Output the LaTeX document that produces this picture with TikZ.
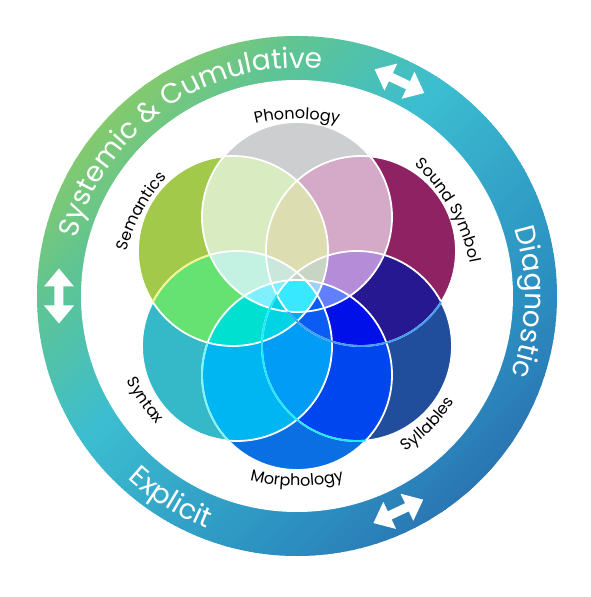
\documentclass[tikz,border=0pt]{standalone}
\usepackage{fontspec}
\setmainfont{Poppins}
\usetikzlibrary{decorations.text}
\definecolor{rg0}{HTML}{86CA6C}
\definecolor{rg1}{HTML}{5CC496}
\definecolor{rg2}{HTML}{3CBDD0}
\definecolor{rg3}{HTML}{2B8EC0}
\definecolor{rg4}{HTML}{2A74B2}
\definecolor{cphon}{HTML}{CDCED0}
\definecolor{csem}{HTML}{A2C94A}
\definecolor{csnd}{HTML}{8E2263}
\definecolor{csyn}{HTML}{35B8C8}
\definecolor{csyl}{HTML}{214E9C}
\definecolor{cmor}{HTML}{0A6FE3}
\tikzset{
  rim/.style={white, line width=1.8pt},
  ringtext/.style={decorate, decoration={text along path, text align=center, text color=white}},
  labeltext/.style={decorate, decoration={text along path, text align=center, text color=black}},
  dblarrow/.style={fill=white}
}
\begin{document}
\begin{tikzpicture}[x=1pt,y=1pt]
\useasboundingbox (-297,-301) rectangle (294,296);
\fill[white] (-297,-301) rectangle (294,296);
% ---------- ring ----------
\begin{scope}
\clip (0,0) circle (260);
\foreach \s in {-264,-260,...,-172}{\pgfmathtruncatemacro\p{(\s+264)/92*100}\fill[rg1!\p!rg0, rotate=-45] (\s-1,-270) rectangle (\s+4,270);}
\foreach \s in {-168,-164,...,-52}{\pgfmathtruncatemacro\p{(\s+168)/116*100}\fill[rg2!\p!rg1, rotate=-45] (\s-1,-270) rectangle (\s+4,270);}
\foreach \s in {-48,-44,...,168}{\pgfmathtruncatemacro\p{(\s+48)/216*100}\fill[rg3!\p!rg2, rotate=-45] (\s-1,-270) rectangle (\s+4,270);}
\foreach \s in {172,176,...,264}{\pgfmathtruncatemacro\p{(\s-172)/92*100}\fill[rg4!\p!rg3, rotate=-45] (\s-1,-270) rectangle (\s+4,270);}
\end{scope}
\fill[white] (0,0) circle (216);
% ---------- circle centres ----------
\coordinate (cP) at (0,79);
\coordinate (cSe) at (-64,45);
\coordinate (cSS) at (64,45);
\coordinate (cSy) at (-60,-50);
\coordinate (cSyl) at (60,-50);
\coordinate (cM) at (0,-79);
\def\R{95}
% singles
\fill[cphon] (cP) circle (\R);
\fill[csem] (cSe) circle (\R);
\fill[csnd] (cSS) circle (\R);
\fill[csyn] (cSy) circle (\R);
\fill[csyl] (cSyl) circle (\R);
\fill[cmor] (cM) circle (\R);
% pairs
\begin{scope}\clip (cP) circle (\R);\fill[fill={rgb,255:red,217;green,235;blue,192}] (cSe) circle (\R);\end{scope}
\begin{scope}\clip (cP) circle (\R);\fill[fill={rgb,255:red,212;green,170;blue,200}] (cSS) circle (\R);\end{scope}
\begin{scope}\clip (cSe) circle (\R);\fill[fill={rgb,255:red,102;green,226;blue,114}] (cSy) circle (\R);\end{scope}
\begin{scope}\clip (cSS) circle (\R);\fill[fill={rgb,255:red,38;green,24;blue,144}] (cSyl) circle (\R);\end{scope}
\begin{scope}\clip (cSy) circle (\R);\fill[fill={rgb,255:red,0;green,182;blue,242}] (cM) circle (\R);\end{scope}
\begin{scope}\clip (cSyl) circle (\R);\fill[fill={rgb,255:red,0;green,70;blue,238}] (cM) circle (\R);\end{scope}
% triples
\begin{scope}\clip (cP) circle (\R);\clip (cSe) circle (\R);\fill[fill={rgb,255:red,220;green,221;blue,176}] (cSS) circle (\R);\end{scope}
\begin{scope}\clip (cP) circle (\R);\clip (cSe) circle (\R);\fill[fill={rgb,255:red,195;green,242;blue,227}] (cSy) circle (\R);\end{scope}
\begin{scope}\clip (cP) circle (\R);\clip (cSS) circle (\R);\fill[fill={rgb,255:red,180;green,140;blue,216}] (cSyl) circle (\R);\end{scope}
\begin{scope}\clip (cSe) circle (\R);\clip (cSy) circle (\R);\fill[fill={rgb,255:red,0;green,224;blue,208}] (cM) circle (\R);\end{scope}
\begin{scope}\clip (cSS) circle (\R);\clip (cSyl) circle (\R);\fill[fill={rgb,255:red,0;green,16;blue,232}] (cM) circle (\R);\end{scope}
\begin{scope}\clip (cSy) circle (\R);\clip (cSyl) circle (\R);\fill[fill={rgb,255:red,0;green,156;blue,245}] (cM) circle (\R);\end{scope}
% quads
\begin{scope}\clip (cP) circle (\R);\clip (cSe) circle (\R);\clip (cSS) circle (\R);\fill[fill={rgb,255:red,203;green,230;blue,218}] (cSy) circle (\R);\end{scope}
\begin{scope}\clip (cP) circle (\R);\clip (cSe) circle (\R);\clip (cSS) circle (\R);\fill[fill={rgb,255:red,200;green,212;blue,196}] (cSyl) circle (\R);\end{scope}
\begin{scope}\clip (cP) circle (\R);\clip (cSe) circle (\R);\clip (cSy) circle (\R);\fill[fill={rgb,255:red,128;green,240;blue,255}] (cM) circle (\R);\end{scope}
\begin{scope}\clip (cP) circle (\R);\clip (cSS) circle (\R);\clip (cSyl) circle (\R);\fill[fill={rgb,255:red,96;green,128;blue,255}] (cM) circle (\R);\end{scope}
\begin{scope}\clip (cSe) circle (\R);\clip (cSy) circle (\R);\clip (cSyl) circle (\R);\fill[fill={rgb,255:red,0;green,212;blue,228}] (cM) circle (\R);\end{scope}
\begin{scope}\clip (cSS) circle (\R);\clip (cSy) circle (\R);\clip (cSyl) circle (\R);\fill[fill={rgb,255:red,10;green,92;blue,245}] (cM) circle (\R);\end{scope}
% fives
\begin{scope}\clip (cP) circle (\R);\clip (cSe) circle (\R);\clip (cSS) circle (\R);\clip (cSyl) circle (\R);\fill[fill={rgb,255:red,160;green,207;blue,248}] (cM) circle (\R);\end{scope}
\begin{scope}\clip (cSe) circle (\R);\clip (cSS) circle (\R);\clip (cSy) circle (\R);\clip (cSyl) circle (\R);\fill[fill={rgb,255:red,0;green,168;blue,245}] (cM) circle (\R);\end{scope}
% all six
\begin{scope}\clip (cP) circle (\R);\clip (cSe) circle (\R);\clip (cSS) circle (\R);\clip (cSy) circle (\R);\clip (cSyl) circle (\R);\fill[fill={rgb,255:red,56;green,232;blue,255}] (cM) circle (\R);\end{scope}
% ---------- outlines ----------
\foreach \c in {cP,cSe,cSS,cSy,cSyl,cM}{\draw[rim] (\c) circle (\R);}
% tinted outline parts
\begin{scope}[even odd rule]\clip (cSe) circle (\R);\clip (-300,-310) rectangle (300,300) (cP) circle (\R);
\draw[rim, draw={rgb,255:red,245;green,245;blue,140}] (cSy) circle (\R);\end{scope}
\begin{scope}[even odd rule]\clip (cSyl) circle (\R);\clip (-300,-310) rectangle (300,300) (cP) circle (\R);
\draw[rim, draw={rgb,255:red,64;green,158;blue,242}] (cSS) circle (\R);\end{scope}
\begin{scope}[even odd rule]\clip (cSy) circle (\R);\clip (-300,-310) rectangle (300,300) (cSe) circle (\R);
\draw[rim, draw={rgb,255:red,128;green,245;blue,245}] (cM) circle (\R);\end{scope}
\begin{scope}[even odd rule]\clip (cM) circle (\R);\clip (-300,-310) rectangle (300,300) (cSS) circle (\R);
\draw[rim, draw={rgb,255:red,34;green,232;blue,255}] (cSyl) circle (\R);\end{scope}
% ---------- ring arrows ----------
\foreach \a/\r in {64.5/-25.5, 180/90, -64.8/25.2}{
\fill[dblarrow, shift={(\a:238)}, rotate=\r] (-27.5,0) -- (-9.5,15) -- (-9.5,4.5) -- (9.5,4.5) -- (9.5,15) -- (27.5,0) -- (9.5,-15) -- (9.5,-4.5) -- (-9.5,-4.5) -- (-9.5,-15) -- cycle;}
% ---------- ring texts ----------
\path[ringtext, decoration={text={|\fontsize{28}{30}\selectfont|Systemic {\&} Cumulative}}] (184.5:228) arc[start angle=184.5, end angle=64.5, radius=228];
\path[ringtext, decoration={text={|\fontsize{28}{30}\selectfont|Diagnostic}}] (58.5:228) arc[start angle=58.5, end angle=-61.5, radius=228];
\path[ringtext, decoration={text={|\fontsize{28}{30}\selectfont|Explicit}}] (178:249) arc[start angle=178, end angle=298, radius=249];
% ---------- circle labels ----------
\path[labeltext, decoration={text={|\fontsize{16}{18}\selectfont|Phonology}}] (150:177) arc[start angle=150, end angle=30, radius=177];
\path[labeltext, decoration={text={|\fontsize{16}{18}\selectfont|Sound Symbol}}] (89.5:176) arc[start angle=89.5, end angle=-30.5, radius=176];
\path[labeltext, decoration={text={|\fontsize{16}{18}\selectfont|Semantics}}] (211.5:176) arc[start angle=211.5, end angle=91.5, radius=176];
\path[labeltext, decoration={text={|\fontsize{16}{18}\selectfont|Syntax}}] (154.5:190) arc[start angle=154.5, end angle=274.5, radius=190];
\path[labeltext, decoration={text={|\fontsize{16}{18}\selectfont|Morphology}}] (210:190) arc[start angle=210, end angle=330, radius=190];
\path[labeltext, decoration={text={|\fontsize{16}{18}\selectfont|Syllables}}] (-104.5:190) arc[start angle=-104.5, end angle=15.5, radius=190];
\end{tikzpicture}
\end{document}
